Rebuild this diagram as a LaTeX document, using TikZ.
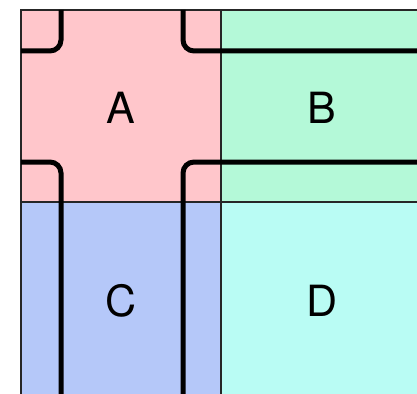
\documentclass[tikz,border=0pt]{standalone}
\usepackage{fontspec}
\setmainfont{TeX Gyre Heros}
\usepackage{xcolor}
\usepackage{tikz}
\usetikzlibrary{positioning}

\definecolor{tileA}{HTML}{FFC6CB}
\definecolor{tileB}{HTML}{B4F9D8}
\definecolor{tileC}{HTML}{B5C8F9}
\definecolor{tileD}{HTML}{B9FCF4}

\begin{document}
\begin{tikzpicture}[
        x=1pt, y=-1pt,
        tile/.style={draw=black!85, line width=1.8pt},
        strand/.style={draw=black, line width=5pt, rounded corners=11pt},
        label/.style={font=\fontsize{43}{43}\selectfont}
    ]
    
    \useasboundingbox (0,0) rectangle (417,393);
    \clip (0,0) rectangle (417,393);
    
    % tiles
    \fill[tileA] (21,10) rectangle (221,202);
    \fill[tileB] (221,10) rectangle (430,202);
    \fill[tileC] (21,202) rectangle (221,410);
    \fill[tileD] (221,202) rectangle (430,410);
    
    \draw[tile] (430,10) -- (21,10) -- (21,410);
    \draw[tile] (221,10) -- (221,410);
    \draw[tile] (21,202) -- (430,202);
    
    % strands
    \draw[strand] (61,10) -- (61,51) -- (21,51);
    \draw[strand] (183,10) -- (183,51) -- (430,51);
    \draw[strand] (21,162) -- (61,162) -- (61,410);
    \draw[strand] (430,162) -- (183,162) -- (183,410);
    
    \node (a) [label] at (121,108) {A};
    \node (b) [label] at (322,108) {B};
    \node (c) [label] at (121,301) {C};
    \node (d) [label] at (322,301) {D};
    
\end{tikzpicture}
\end{document}
